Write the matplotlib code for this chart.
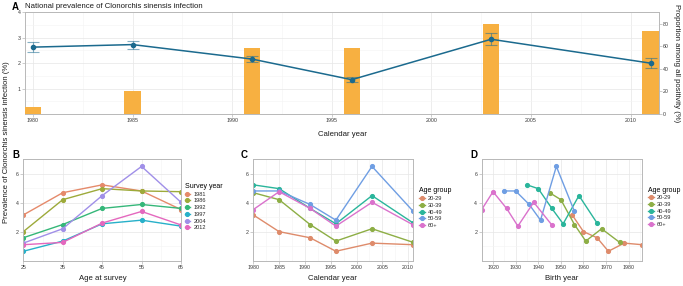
import matplotlib
matplotlib.use('Agg')
import matplotlib.pyplot as plt
import numpy as np
from matplotlib.ticker import FixedLocator

plt.rcParams['font.family'] = ['Liberation Sans', 'DejaVu Sans']

# ---------------- Panel A data ----------------
years_a = [1980, 1985, 1991, 1996, 2003, 2011]
prev_a = [2.63, 2.73, 2.16, 1.35, 2.94, 2.00]
prev_lo = [2.45, 2.56, 2.04, 1.26, 2.70, 1.80]
prev_hi = [2.82, 2.87, 2.30, 1.44, 3.18, 2.19]
prop_pos = [6.0, 20.6, 58.0, 58.2, 79.3, 73.2]

# ---------------- Panels B-D data ----------------
survey_years = ['1981', '1986', '1992', '1997', '2004', '2012']
calendar_years = [1980, 1985, 1991, 1996, 2003, 2011]
age_groups = ['20-29', '30-39', '40-49', '50-59', '60+']
age_mid = [25, 35, 45, 55, 65]
prev_1981 = [3.15, 4.68, 5.22, 4.80, 3.52]
prev_1986 = [2.00, 4.20, 4.96, 4.80, 4.75]
prev_1992 = [1.58, 2.49, 3.60, 3.87, 3.60]
prev_1997 = [0.65, 1.35, 2.54, 2.79, 2.38]
prev_2004 = [1.21, 2.20, 4.48, 6.49, 4.02]
prev_2012 = [1.10, 1.26, 2.59, 3.39, 2.46]
prev_matrix = np.array([prev_1981, prev_1986, prev_1992, prev_1997, prev_2004, prev_2012])

survey_colors = ['#E58A6B', '#9DAA3A', '#35B779', '#27B0C9', '#A08FE8', '#E468BE']
age_colors = ['#DE8B6B', '#8DAE45', '#2AB59B', '#6F9EE3', '#DA72CC']

W, H = 683, 286
fig = plt.figure(figsize=(W / 100, H / 100), dpi=100)

def ax_px(l, t, r, b, **kw):
    return fig.add_axes([l / W, 1 - b / H, (r - l) / W, (b - t) / H], **kw)

TICK_FS = 3.8
LAB_FS = 5.6
SPINE = '#B8B8B8'
TXT = '#1A1A1A'

def style(ax, grid=True):
    for s in ax.spines.values():
        s.set_color(SPINE)
        s.set_linewidth(0.7)
    ax.tick_params(which='major', length=2, width=0.5, color=SPINE,
                   labelsize=TICK_FS, labelcolor='#3A3A3A', pad=1.2)
    ax.tick_params(which='minor', length=0)
    if grid:
        ax.grid(which='major', color='#E6E6E6', lw=0.5)
        ax.grid(which='minor', color='#F3F3F3', lw=0.4)
        ax.set_axisbelow(True)

def ftext(x, y, s, **kw):
    return fig.text(x / W, 1 - y / H, s, **kw)

# ---------------- Panel A ----------------
axA = ax_px(25, 12.3, 658.5, 114)
axA.set_xlim(1979.6, 2011.4)
axA.set_ylim(0, 4)
axA.xaxis.set_major_locator(FixedLocator([1980, 1985, 1990, 1995, 2000, 2005, 2010]))
axA.xaxis.set_minor_locator(FixedLocator([1982.5, 1987.5, 1992.5, 1997.5, 2002.5, 2007.5]))
axA.yaxis.set_major_locator(FixedLocator([1, 2, 3, 4]))
axA.yaxis.set_minor_locator(FixedLocator([0.5, 1.5, 2.5, 3.5]))
style(axA)

axA2 = axA.twinx()
axA2.bar(years_a, prop_pos, width=0.82, color='#F7B041', zorder=1)
axA2.set_ylim(0, 90)
axA2.yaxis.set_major_locator(FixedLocator([0, 20, 40, 60, 80]))
style(axA2, grid=False)
for s in axA2.spines.values():
    s.set_visible(False)
axA2.set_ylabel('Proportion among all positivity (%)', fontsize=LAB_FS,
                rotation=270, labelpad=8, color=TXT)

axA3 = fig.add_axes(axA.get_position(), sharex=axA, sharey=axA)
axA3.patch.set_visible(False)
axA3.axis('off')
yerr = [np.array(prev_a) - np.array(prev_lo), np.array(prev_hi) - np.array(prev_a)]
axA3.errorbar(years_a, prev_a, yerr=yerr, fmt='none', ecolor='#1F6E93',
              alpha=0.55, capsize=4, elinewidth=0.8, capthick=0.8)
axA3.plot(years_a, prev_a, color='#1B6A8E', lw=1.1, marker='o', ms=3.0)

ftext(11.5, 6.5, 'A', fontsize=7, fontweight='bold', va='center', ha='left')
ftext(25, 6.5, 'National prevalence of Clonorchis sinensis infection',
      fontsize=LAB_FS, va='center', ha='left', color=TXT)
ftext(342, 134, 'Calendar year', fontsize=LAB_FS, ha='center', va='center', color=TXT)

# shared y label
ftext(7, 142, 'Prevalence of Clonorchis sinensis infection (%)', fontsize=LAB_FS,
      rotation=90, ha='center', va='center', color=TXT)

def style_bottom(ax, xlim, xmaj, xmin):
    ax.set_xlim(*xlim)
    ax.set_ylim(0, 7)
    ax.xaxis.set_major_locator(FixedLocator(xmaj))
    ax.xaxis.set_minor_locator(FixedLocator(xmin))
    ax.yaxis.set_major_locator(FixedLocator([2, 4, 6]))
    ax.yaxis.set_minor_locator(FixedLocator([1, 3, 5, 7]))
    style(ax)

def add_legend(ax, title, x, y):
    leg = ax.legend(loc='upper left', bbox_to_anchor=(x / W, 1 - y / H),
                    bbox_transform=fig.transFigure, frameon=False, title=title,
                    fontsize=4.1, title_fontsize=5.0, handlelength=1.0,
                    handletextpad=0.6, labelspacing=0.3, borderpad=0, borderaxespad=0)
    leg._legend_box.align = 'left'
    for t in leg.get_texts():
        t.set_color('#2A2A2A')
    return leg

LW, MS = 1.0, 2.7

# ---------------- Panel B ----------------
axB = ax_px(23.3, 159, 181, 260.7)
style_bottom(axB, (25, 65), [25, 35, 45, 55, 65], [30, 40, 50, 60])
for i, sy in enumerate(survey_years):
    axB.plot(age_mid, prev_matrix[i], color=survey_colors[i], lw=LW, marker='o', ms=MS, label=sy)
add_legend(axB, 'Survey year', 184.5, 183)
ftext(16, 155.5, 'B', fontsize=7, fontweight='bold', ha='center', va='center')
ftext(103, 279, 'Age at survey', fontsize=LAB_FS, ha='center', va='center', color=TXT)

# ---------------- Panel C ----------------
axC = ax_px(253.3, 159, 413.3, 260.7)
style_bottom(axC, (1980, 2011), [1980, 1985, 1990, 1995, 2000, 2005, 2010],
             [1982.5, 1987.5, 1992.5, 1997.5, 2002.5, 2007.5])
for j, ag in enumerate(age_groups):
    axC.plot(calendar_years, prev_matrix[:, j], color=age_colors[j], lw=LW, marker='o', ms=MS, label=ag)
add_legend(axC, 'Age group', 419, 187.5)
ftext(244.5, 155.5, 'C', fontsize=7, fontweight='bold', ha='center', va='center')
ftext(333, 279, 'Calendar year', fontsize=LAB_FS, ha='center', va='center', color=TXT)

# ---------------- Panel D ----------------
axD = ax_px(481.7, 159, 642.3, 260.7)
style_bottom(axD, (1915, 1986), [1920, 1930, 1940, 1950, 1960, 1970, 1980],
             [1915, 1925, 1935, 1945, 1955, 1965, 1975, 1985])
for j, ag in enumerate(age_groups):
    birth = np.array(calendar_years) - age_mid[j]
    axD.plot(birth, prev_matrix[:, j], color=age_colors[j], lw=LW, marker='o', ms=MS, label=ag)
add_legend(axD, 'Age group', 648, 186.5)
ftext(474, 155.5, 'D', fontsize=7, fontweight='bold', ha='center', va='center')
ftext(562, 279, 'Birth year', fontsize=LAB_FS, ha='center', va='center', color=TXT)

fig.savefig('out.png', dpi=100)
